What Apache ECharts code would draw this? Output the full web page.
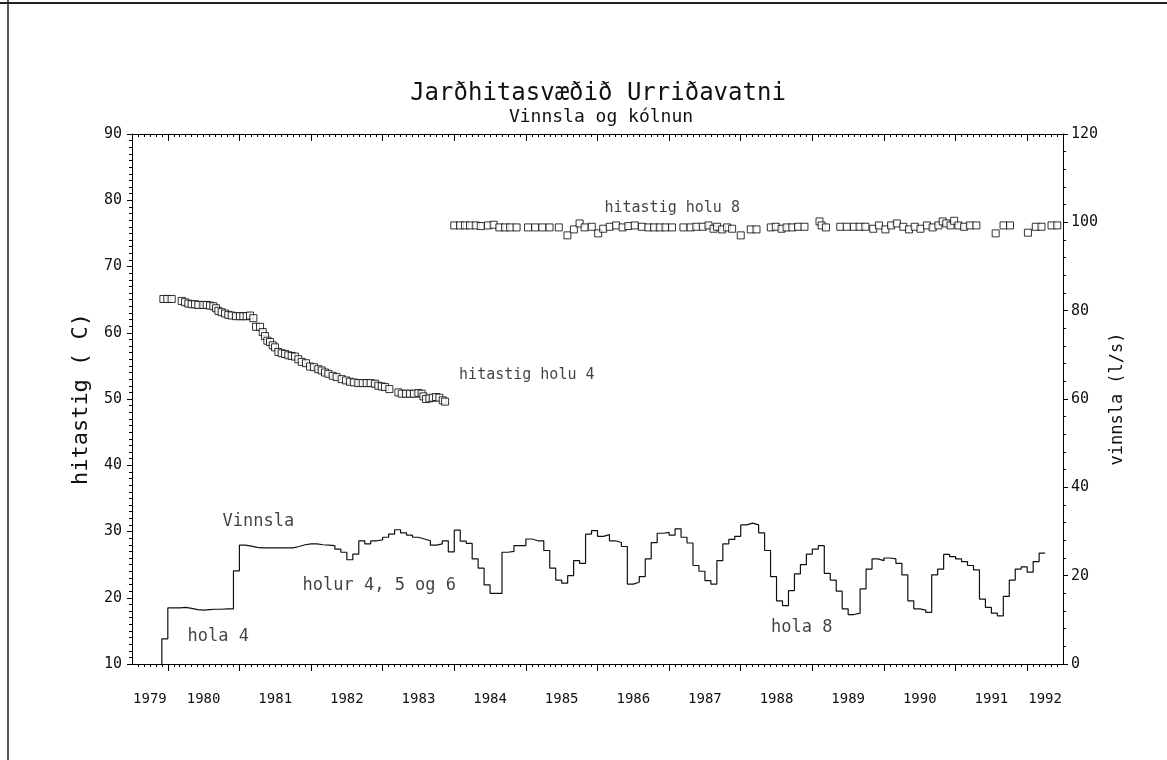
<!DOCTYPE html>
<html><head><meta charset="utf-8">
<script src="https://cdn.jsdelivr.net/npm/echarts@6/dist/echarts.min.js"></script>
<style>html,body{margin:0;padding:0;background:#fff}#c{width:1167px;height:760px}</style>
</head><body><div id="c"></div>
<script>
// ---------- data ----------
const titleText = 'Jarðhitasvæðið Urriðavatni';
const subtitleText = 'Vinnsla og kólnun';
const leftName = 'hitastig ( C)';
const rightName = 'vinnsla (l/s)';
const yearLabels = [1979,1980,1981,1982,1983,1984,1985,1986,1987,1988,1989,1990,1991,1992];

// Vinnsla (l/s), monthly, first month = December 1979
const vinnslaStartYear = 1979, vinnslaStartMonth = 12;
const vinnsla = [
  5.7,
  12.7,12.7,12.8,12.6,12.3,12.2,12.3,12.4,12.4,12.5,12.5,21.1,
  26.9,26.7,26.4,26.3,26.3,26.3,26.3,26.3,26.3,26.6,27.0,27.2,
  27.2,27.0,26.9,26.8,26.0,25.3,23.6,24.9,27.9,27.2,27.9,28.1,
  28.7,29.4,30.4,29.7,29.2,28.7,28.3,27.9,26.9,27.2,27.9,25.4,
  30.3,27.8,27.3,23.8,21.7,17.9,16.0,16.0,25.3,25.5,26.8,26.8,
  28.3,27.9,27.9,25.7,21.7,19.0,18.3,20.0,23.4,22.8,29.4,30.2,
  28.9,29.3,27.9,27.5,26.6,18.1,18.5,19.8,23.8,27.5,29.6,29.8,
  29.2,30.6,28.7,27.4,22.3,21.0,18.9,18.1,23.4,27.2,28.2,28.9,
  31.5,31.9,31.5,29.7,25.7,19.8,14.3,13.2,16.6,20.4,22.5,24.9,
  26.0,26.8,20.5,19.0,16.5,12.5,11.2,11.5,17.0,21.5,23.8,23.4,
  24.0,23.8,22.8,20.2,14.3,12.5,12.2,11.7,20.2,21.5,24.8,24.3,
  23.8,23.2,22.3,21.3,14.7,12.8,11.5,10.9,15.3,19.0,21.5,22.0,
  20.8,23.2,25.1
];

// hitastig holu 4 (°C) [decimal year, temp]
const holu4 = [
[1979.938,65.1],[1979.993,65.1],[1980.054,65.1],
[1980.194,64.8],[1980.240,64.6],[1980.287,64.4],[1980.333,64.3],[1980.380,64.3],[1980.426,64.2],
[1980.496,64.2],[1980.543,64.2],[1980.589,64.1],[1980.636,64.0],[1980.673,63.7],[1980.706,63.3],
[1980.752,63.1],[1980.799,62.9],[1980.845,62.7],[1980.892,62.6],[1980.952,62.5],[1981.008,62.5],
[1981.055,62.5],[1981.101,62.5],[1981.148,62.6],[1981.195,62.2],[1981.232,60.9],[1981.288,60.9],
[1981.325,60.1],[1981.357,59.5],[1981.390,58.8],[1981.427,58.6],[1981.465,58.1],[1981.497,57.8],
[1981.544,57.1],[1981.590,56.9],[1981.637,56.8],[1981.683,56.6],[1981.730,56.5],[1981.776,56.4],
[1981.823,56.0],[1981.870,55.6],[1981.930,55.4],[1981.986,54.9],[1982.042,54.8],[1982.102,54.5],
[1982.149,54.3],[1982.195,54.0],[1982.242,53.8],[1982.303,53.5],[1982.358,53.3],[1982.428,53.0],
[1982.489,52.8],[1982.545,52.6],[1982.601,52.5],[1982.661,52.4],[1982.722,52.4],[1982.778,52.4],
[1982.833,52.4],[1982.894,52.3],[1982.940,52.0],[1982.987,51.9],[1983.033,51.8],[1983.094,51.5],
[1983.220,51.0],[1983.266,50.8],[1983.327,50.8],[1983.383,50.8],[1983.438,50.8],[1983.499,50.9],
[1983.545,50.8],[1983.569,50.4],[1983.606,50.0],[1983.653,50.1],[1983.699,50.2],[1983.746,50.3],
[1983.792,50.2],[1983.839,49.8],[1983.872,49.6]
];

// hitastig holu 8 (°C) [decimal year, temp]
const holu8 = [
[1984.00,76.2],[1984.08,76.2],[1984.15,76.2],[1984.22,76.2],[1984.30,76.2],[1984.37,76.1],
[1984.47,76.2],[1984.55,76.3],[1984.63,75.9],[1984.71,75.9],[1984.78,75.9],[1984.87,75.9],
[1985.03,75.9],[1985.13,75.9],[1985.23,75.9],[1985.33,75.9],[1985.46,75.9],[1985.58,74.7],
[1985.67,75.6],[1985.75,76.5],[1985.82,75.9],[1985.92,76.0],[1986.01,75.0],[1986.08,75.7],
[1986.17,76.0],[1986.26,76.2],[1986.35,75.9],[1986.43,76.1],[1986.52,76.2],[1986.62,76.0],
[1986.71,75.9],[1986.79,75.9],[1986.87,75.9],[1986.95,75.9],[1987.04,75.9],[1987.20,75.9],
[1987.30,75.9],[1987.38,76.0],[1987.47,76.0],[1987.55,76.2],[1987.62,75.7],[1987.67,76.0],
[1987.74,75.6],[1987.81,75.9],[1987.88,75.7],[1988.00,74.7],[1988.14,75.6],[1988.22,75.6],
[1988.42,75.9],[1988.49,76.0],[1988.57,75.7],[1988.64,75.9],[1988.72,75.9],[1988.80,76.0],
[1988.89,76.0],[1989.10,76.8],[1989.13,76.2],[1989.19,75.9],[1989.39,76.0],[1989.48,76.0],
[1989.58,76.0],[1989.66,76.0],[1989.74,76.0],[1989.85,75.7],[1989.93,76.2],[1990.02,75.6],
[1990.10,76.2],[1990.18,76.5],[1990.27,76.0],[1990.35,75.6],[1990.43,76.0],[1990.51,75.7],
[1990.60,76.2],[1990.68,75.9],[1990.76,76.2],[1990.82,76.8],[1990.87,76.5],[1990.93,76.2],
[1990.98,76.9],[1991.04,76.2],[1991.12,76.0],[1991.20,76.2],[1991.29,76.2],[1991.56,75.0],
[1991.67,76.2],[1991.76,76.2],[1992.01,75.1],[1992.12,76.0],[1992.20,76.0],[1992.34,76.2],
[1992.42,76.2]
];

// in-plot notes: [text, decimal year, value on left axis, font size]
const notes = [
  ['hitastig holu 8', 1986.09, 78.8, 15],
  ['hitastig holu 4', 1984.06, 53.6, 15],
  ['Vinnsla', 1980.757, 31.5, 17],
  ['holur 4, 5 og 6', 1981.874, 21.8, 17],
  ['hola 4', 1980.268, 14.15, 17],
  ['hola 8', 1988.415, 15.5, 17]
];

// ---------- build ----------
const FONT = 'DejaVu Sans Mono';
const X_MIN = 1979.5, X_MAX = 1992.5;
const x0 = vinnslaStartYear + (vinnslaStartMonth - 1) / 12;
const vinnslaData = [[x0, 0]];
vinnsla.forEach((v, i) => vinnslaData.push([x0 + i / 12, v]));
vinnslaData.push([x0 + vinnsla.length / 12, vinnsla[vinnsla.length - 1]]);

const majorTicks = [];
for (let y = 1980; y <= 1992; y++) majorTicks.push(y);
const minorTicks = [];
for (let k = 1979 * 12 + 7; k < 1992 * 12 + 6; k++) minorTicks.push(k / 12);
const labelVals = yearLabels.map(y => (Math.max(y, X_MIN) + Math.min(y + 1, X_MAX)) / 2);

const black = '#000';
const baseX = {
  type: 'value', min: X_MIN, max: X_MAX, splitLine: { show: false },
  axisLine: { show: false }, axisLabel: { show: false }
};
const option = {
  animation: false,
  backgroundColor: '#fff',
  title: [
    { text: titleText, left: 593, top: 77, textAlign: 'center',
      textStyle: { fontFamily: FONT, fontSize: 24, fontWeight: 'normal', color: '#111' } },
    { text: subtitleText, left: 596, top: 103, textAlign: 'center',
      textStyle: { fontFamily: FONT, fontSize: 18, fontWeight: 'normal', color: '#111' } }
  ],
  grid: { left: 132, right: 104, top: 134, bottom: 96, containLabel: false },
  xAxis: [
    Object.assign({}, baseX, {
      position: 'bottom',
      axisLine: { show: true, onZero: false, lineStyle: { color: black, width: 1 } },
      axisTick: { show: true, customValues: majorTicks, length: 7, lineStyle: { color: black } },
      axisLabel: { show: true, customValues: labelVals, margin: 28,
        formatter: v => String(Math.floor(v + 1e-9)),
        fontFamily: FONT, fontSize: 14, color: '#111' }
    }),
    Object.assign({}, baseX, { position: 'bottom',
      axisTick: { show: true, customValues: minorTicks, length: 3, lineStyle: { color: black } } }),
    Object.assign({}, baseX, { position: 'top',
      axisLine: { show: true, onZero: false, lineStyle: { color: black, width: 1 } },
      axisTick: { show: true, inside: true, customValues: majorTicks, length: 7, lineStyle: { color: black } } }),
    Object.assign({}, baseX, { position: 'top',
      axisTick: { show: true, inside: true, customValues: minorTicks, length: 3, lineStyle: { color: black } } })
  ],
  yAxis: [
    { type: 'value', min: 10, max: 90, interval: 10, position: 'left',
      name: leftName, nameLocation: 'middle', nameRotate: 90, nameGap: 40,
      nameTextStyle: { fontFamily: FONT, fontSize: 22, color: '#111' },
      axisLine: { show: true, onZero: false, lineStyle: { color: black } },
      axisTick: { show: true, length: 5, lineStyle: { color: black } },
      minorTick: { show: true, splitNumber: 10, length: 3, lineStyle: { color: black } },
      axisLabel: { margin: 10, fontFamily: FONT, fontSize: 15, color: '#111' },
      splitLine: { show: false } },
    { type: 'value', min: 0, max: 120, interval: 20, position: 'right',
      name: rightName, nameLocation: 'middle', nameRotate: 90, nameGap: 46,
      nameTextStyle: { fontFamily: FONT, fontSize: 17, color: '#111' },
      axisLine: { show: true, onZero: false, lineStyle: { color: black } },
      axisTick: { show: true, length: 5, lineStyle: { color: black } },
      minorTick: { show: true, splitNumber: 5, length: 3, lineStyle: { color: black } },
      axisLabel: { margin: 8, fontFamily: FONT, fontSize: 15, color: '#111' },
      splitLine: { show: false } }
  ],
  graphic: [
    { type: 'line', shape: { x1: 0, y1: 3, x2: 1167, y2: 3 }, style: { stroke: '#222', lineWidth: 2 }, silent: true },
    { type: 'line', shape: { x1: 8, y1: 0, x2: 8, y2: 760 }, style: { stroke: '#222', lineWidth: 1.5 }, silent: true }
  ],
  series: [
    { name: 'Vinnsla', type: 'line', xAxisIndex: 0, yAxisIndex: 1, step: 'end',
      data: vinnslaData, showSymbol: false, symbol: 'none',
      lineStyle: { color: '#111', width: 1.2 }, z: 3 },
    { name: 'hitastig holu 4', type: 'scatter', xAxisIndex: 0, yAxisIndex: 0,
      data: holu4, symbol: 'rect', symbolSize: 7,
      itemStyle: { color: '#fff', borderColor: '#000', borderWidth: 1 }, z: 4 },
    { name: 'hitastig holu 8', type: 'scatter', xAxisIndex: 0, yAxisIndex: 0,
      data: holu8, symbol: 'rect', symbolSize: 7,
      itemStyle: { color: '#fff', borderColor: '#000', borderWidth: 1 }, z: 4 },
    { name: 'notes', type: 'scatter', xAxisIndex: 0, yAxisIndex: 0, symbolSize: 1, silent: true,
      itemStyle: { color: 'rgba(0,0,0,0)' },
      data: notes.map(n => ({ name: n[0], value: [n[1], n[2]],
        label: { show: true, position: 'right', distance: 0, formatter: '{b}',
          fontFamily: FONT, fontSize: n[3], color: '#111' } })), z: 5 }
  ]
};
const chart = echarts.init(document.getElementById('c'), null, { renderer: 'canvas' });
chart.setOption(option);
</script></body></html>
